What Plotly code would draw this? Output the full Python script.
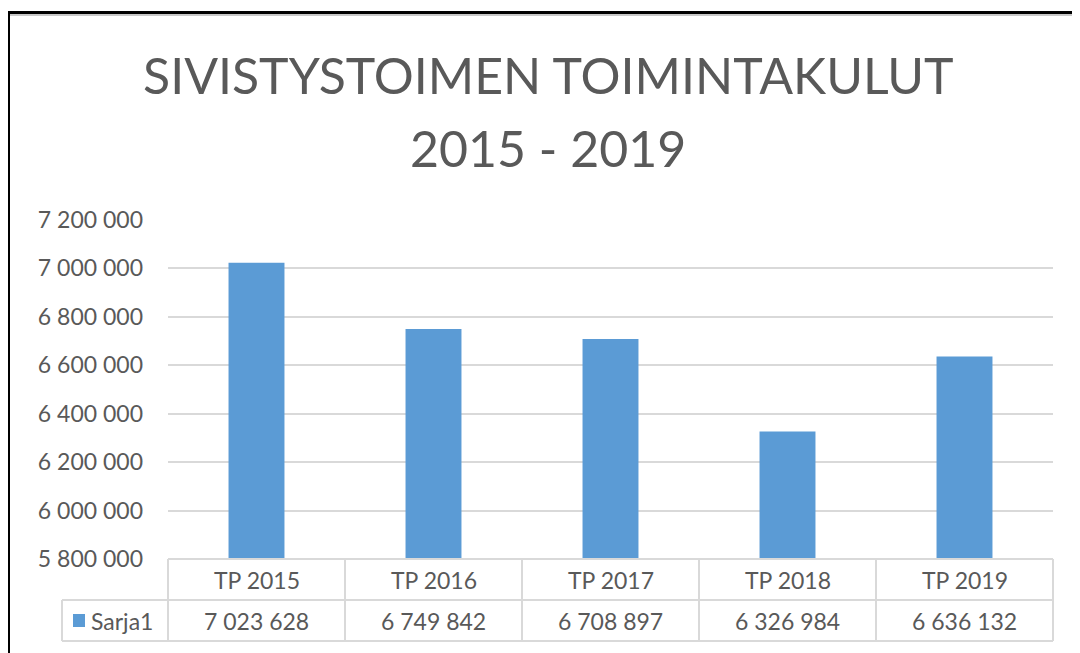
import plotly.graph_objects as go

categories = ["TP 2015", "TP 2016", "TP 2017", "TP 2018", "TP 2019"]
values = [7023628, 6749842, 6708897, 6326984, 6636132]
series_name = "Sarja1"
title_lines = ["SIVISTYSTOIMEN TOIMINTAKULUT", "2015 - 2019"]

BAR_COLOR = "#5b9bd5"
TEXT_COLOR = "#595959"
GRID_COLOR = "#d9d9d9"
FONT = "Lato"

# the page body adds an 8px margin, so the figure is drawn 8px smaller
OFF = 8
W, H = 1080 - OFF, 653 - OFF
L, R, T, B = 168, 1053, 220, 559  # plot area in page pixels


def px(x):
    return (x - L) / (R - L)


def py(y):
    return (B - y) / (B - T)


def fmt(v):
    return f"{v:,}".replace(",", " ")


fig = go.Figure()
fig.add_trace(go.Bar(
    x=categories, y=values, name=series_name,
    marker=dict(color=BAR_COLOR, line=dict(width=0)),
))

shapes = []
annotations = []
line = dict(color=GRID_COLOR, width=2)
n = len(categories)
cell_font = dict(size=23, color=TEXT_COLOR, family=FONT)

# title, two lines
for txt, yc in zip(title_lines, [75, 148]):
    annotations.append(dict(x=px(548), y=py(yc), xref="paper", yref="paper",
                            xanchor="center", yanchor="middle", text=txt, showarrow=False,
                            font=dict(size=50, color=TEXT_COLOR, family=FONT)))

# data table grid
row1, row2, row3 = B, 600, 641
shapes.append(dict(type="line", xref="paper", yref="paper", x0=0, x1=1, y0=py(row1), y1=py(row1), line=line))
shapes.append(dict(type="line", xref="paper", yref="paper", x0=px(62), x1=1, y0=py(row2), y1=py(row2), line=line))
shapes.append(dict(type="line", xref="paper", yref="paper", x0=px(62), x1=1, y0=py(row3), y1=py(row3), line=line))
shapes.append(dict(type="line", xref="paper", yref="paper", x0=px(62), x1=px(62), y0=py(row2), y1=py(row3), line=line))
for i in range(n + 1):
    shapes.append(dict(type="line", xref="paper", yref="paper", x0=i / n, x1=i / n,
                       y0=py(row1), y1=py(row3), line=line))

for i, (c, v) in enumerate(zip(categories, values)):
    xc = (i + 0.5) / n
    annotations.append(dict(x=xc, y=py((row1 + row2) / 2), xref="paper", yref="paper",
                            xanchor="center", yanchor="middle",
                            text=c, showarrow=False, font=cell_font))
    annotations.append(dict(x=xc, y=py((row2 + row3) / 2), xref="paper", yref="paper",
                            xanchor="center", yanchor="middle",
                            text=fmt(v), showarrow=False, font=cell_font))

# legend key in table
shapes.append(dict(type="rect", xref="paper", yref="paper", x0=px(73), x1=px(85),
                   y0=py(627), y1=py(614), fillcolor=BAR_COLOR, line=dict(width=0)))
annotations.append(dict(x=px(89), y=py(620.5), xref="paper", yref="paper", xanchor="left",
                        yanchor="middle", text=series_name, showarrow=False, font=cell_font))

# outer frame
shapes.append(dict(type="line", xref="paper", yref="paper", x0=px(8), x1=px(1085),
                   y0=py(15), y1=py(15), line=dict(color="#c8c8c8", width=2)))
shapes.append(dict(type="line", xref="paper", yref="paper", x0=px(8), x1=px(1085),
                   y0=py(12.5), y1=py(12.5), line=dict(color="black", width=3)))
shapes.append(dict(type="line", xref="paper", yref="paper", x0=px(8.5), x1=px(8.5),
                   y0=py(11), y1=py(660), line=dict(color="black", width=3)))

fig.update_layout(
    width=W, height=H,
    margin=dict(l=L - OFF, r=W - (R - OFF), t=T - OFF, b=H - (B - OFF)),
    paper_bgcolor="white", plot_bgcolor="white",
    separators=". ",
    bargap=0.684,
    showlegend=False,
    shapes=shapes,
    annotations=annotations,
    font=dict(family=FONT, color=TEXT_COLOR),
)
fig.update_xaxes(showticklabels=False, showline=False, showgrid=False, zeroline=False)
fig.update_yaxes(range=[5800000, 7200000], dtick=200000, tickformat=",d",
                 showgrid=True, gridcolor=GRID_COLOR, gridwidth=2, zeroline=False, showline=False,
                 tickfont=dict(size=23, color=TEXT_COLOR, family=FONT), ticklabelstandoff=24)

fig.write_html("out.html")
